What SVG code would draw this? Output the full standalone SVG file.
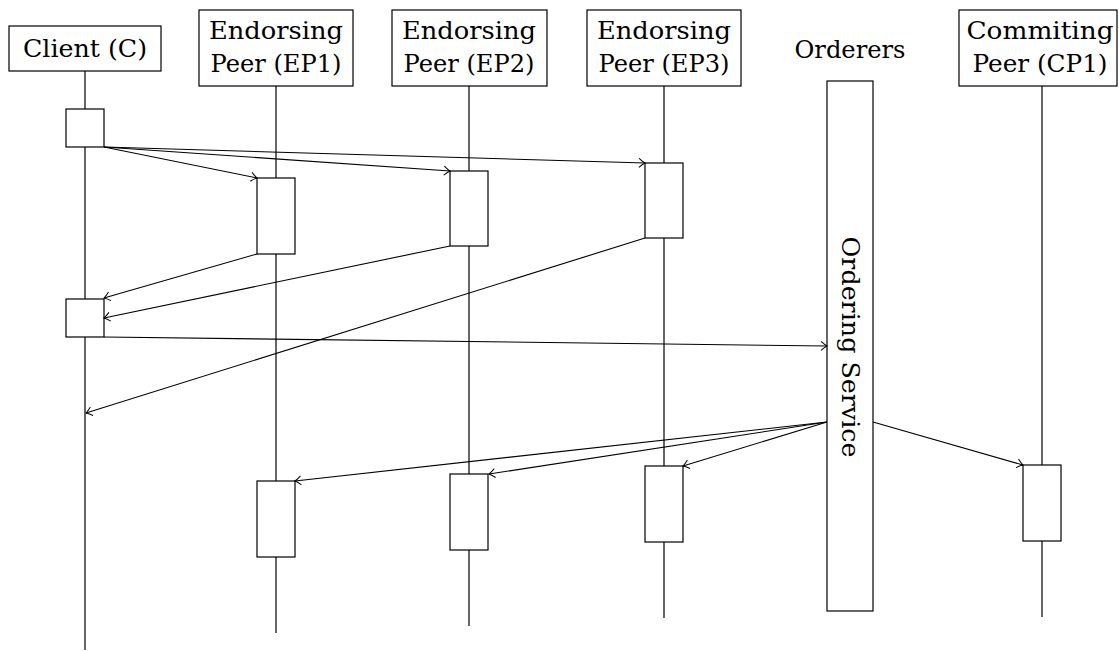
<svg xmlns="http://www.w3.org/2000/svg" width="1119" height="651" viewBox="0 0 1119 651">
<defs>
<style>
.box{fill:#fff;stroke:#000;stroke-width:1.2}
.life{stroke:#000;stroke-width:1.2;fill:none}
.msg{stroke:#000;stroke-width:1.1;fill:none;marker-end:url(#arr)}
text{font-family:"DejaVu Serif","Liberation Serif",serif;font-size:24px;fill:#000;text-anchor:middle}
</style>
<marker id="arr" viewBox="-8 -6 10 12" markerWidth="10" markerHeight="12" refX="0" refY="0" orient="auto" markerUnits="userSpaceOnUse">
<path d="M-6,-4.5 Q-2,-1 0,0 Q-2,1 -6,4.5" fill="none" stroke="#000" stroke-width="1"/>
</marker>
</defs>
<rect width="1119" height="651" fill="#fff"/>
<g id="client">
<line class="life" x1="85" y1="71" x2="85" y2="650"/>
<rect class="box" x="9" y="26" width="152" height="45"/>
<text x="85" y="57" textLength="124" lengthAdjust="spacingAndGlyphs">Client (C)</text>
<rect class="box" x="66" y="109" width="38" height="38"/>
<rect class="box" x="66" y="299" width="38" height="38"/>
</g>
<g id="ep1">
<line class="life" x1="276" y1="86" x2="276" y2="633"/>
<rect class="box" x="199" y="10" width="154" height="76"/>
<text x="276" y="39" textLength="134" lengthAdjust="spacingAndGlyphs">Endorsing</text>
<text x="276" y="72" textLength="131" lengthAdjust="spacingAndGlyphs">Peer (EP1)</text>
<rect class="box" x="257" y="178" width="38" height="76"/>
<rect class="box" x="257" y="481" width="38" height="76"/>
</g>
<g id="ep2">
<line class="life" x1="469" y1="86" x2="469" y2="626"/>
<rect class="box" x="392" y="10" width="155" height="76"/>
<text x="469" y="39" textLength="134" lengthAdjust="spacingAndGlyphs">Endorsing</text>
<text x="469" y="72" textLength="131" lengthAdjust="spacingAndGlyphs">Peer (EP2)</text>
<rect class="box" x="450" y="171" width="38" height="75"/>
<rect class="box" x="450" y="474" width="38" height="76"/>
</g>
<g id="ep3">
<line class="life" x1="664" y1="86" x2="664" y2="618"/>
<rect class="box" x="587" y="10" width="154" height="76"/>
<text x="664" y="39" textLength="134" lengthAdjust="spacingAndGlyphs">Endorsing</text>
<text x="664" y="72" textLength="131" lengthAdjust="spacingAndGlyphs">Peer (EP3)</text>
<rect class="box" x="645" y="163" width="38" height="75"/>
<rect class="box" x="645" y="466" width="38" height="76"/>
</g>
<g id="orderers">
<text x="850" y="58" textLength="111" lengthAdjust="spacingAndGlyphs">Orderers</text>
<rect class="box" x="827" y="81" width="46" height="530"/>
<text transform="translate(850,347) rotate(90)" x="0" y="8" textLength="221" lengthAdjust="spacingAndGlyphs">Ordering Service</text>
</g>
<g id="cp1">
<line class="life" x1="1042" y1="86" x2="1042" y2="617"/>
<rect class="box" x="959" y="10" width="158" height="76"/>
<text x="1040" y="39" textLength="147" lengthAdjust="spacingAndGlyphs">Commiting</text>
<text x="1040" y="72" textLength="135" lengthAdjust="spacingAndGlyphs">Peer (CP1)</text>
<rect class="box" x="1023" y="465" width="38" height="76"/>
</g>
<g id="connectors">
<line class="msg" x1="104" y1="147" x2="257" y2="178"/>
<line class="msg" x1="104" y1="147" x2="450" y2="171"/>
<line class="msg" x1="104" y1="147" x2="645" y2="163"/>
<line class="msg" x1="257" y1="254" x2="104" y2="298"/>
<line class="msg" x1="450" y1="246" x2="104" y2="318"/>
<line class="msg" x1="645" y1="238" x2="86" y2="413"/>
<line class="msg" x1="104" y1="337" x2="827" y2="346"/>
<line class="msg" x1="827" y1="422" x2="295" y2="481"/>
<line class="msg" x1="827" y1="422" x2="489" y2="474"/>
<line class="msg" x1="827" y1="422" x2="683" y2="466"/>
<line class="msg" x1="873" y1="422" x2="1023" y2="465"/>
</g>
</svg>
